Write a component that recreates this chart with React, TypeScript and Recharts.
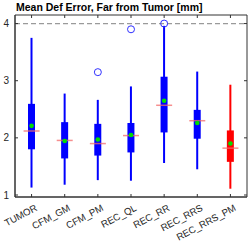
import { ComposedChart, Bar, Scatter, XAxis, YAxis, ReferenceLine, ReferenceArea } from 'recharts';

const categories = ['TUMOR', 'CFM_GM', 'CFM_PM', 'REC_QL', 'REC_RR', 'REC_RRS', 'REC_RRS_PM'];
const whiskerLow = [1.13, 1.18, 1.26, 1.25, 1.56, 1.45, 1.11];
const q1 = [1.8, 1.64, 1.69, 1.745, 2.095, 1.985, 1.58];
const medians = [2.12, 1.955, 1.9, 2.04, 2.57, 2.3, 1.82];
const q3 = [2.595, 2.275, 2.245, 2.26, 3.07, 2.49, 2.13];
const whiskerHigh = [3.75, 2.775, 2.665, 2.9, 3.96, 3.16, 2.93];
const means = [2.21, 1.945, 1.97, 2.05, 2.65, 2.26, 1.9];
// one outlier per category at most, null = none
const outlierValues = [null, null, 3.15, 3.9, 4.0, null, null];
const yTicks = [1, 2, 3, 4];

const boxColors = ['#0000ff', '#0000ff', '#0000ff', '#0000ff', '#0000ff', '#0000ff', '#ff0000'];
const FONT = '"Liberation Sans", Arial, sans-serif';
const PLOT_TOP = 15;
const PLOT_RIGHT = 247;

const rows = categories.map((name, i) => ({
  name,
  lo: whiskerLow[i],
  q1: q1[i],
  median: medians[i],
  q3: q3[i],
  hi: whiskerHigh[i],
  mean: means[i],
  outlier: outlierValues[i],
  color: boxColors[i],
}));

// whisker + box drawn inside the range bar [lo, hi]
const BoxShape = (props: any) => {
  const { x, y, width, height, payload } = props;
  const top = Math.min(y, y + height);
  const h = Math.abs(height);
  const pix = (v: number) => top + ((payload.hi - v) / (payload.hi - payload.lo)) * h;
  const cx = x + width / 2;
  return (
    <g>
      <line x1={cx} x2={cx} y1={top} y2={top + h} stroke={payload.color} strokeWidth={2} />
      <rect x={cx - 3.5} y={pix(payload.q3)} width={7} height={pix(payload.q1) - pix(payload.q3)} fill={payload.color} />
    </g>
  );
};

const MedianShape = (props: any) => {
  const { cx, cy } = props;
  return <line x1={cx - 8} x2={cx + 8} y1={cy} y2={cy} stroke="#f36a6a" strokeOpacity={0.75} strokeWidth={1.5} />;
};

const MeanShape = (props: any) => <circle cx={props.cx} cy={props.cy} r={2.3} fill="#00dd00" />;

const OutlierShape = (props: any) => {
  if (props.payload?.outlier == null || !Number.isFinite(props.cy)) return <g />;
  return <circle cx={props.cx} cy={props.cy} r={3.5} fill="none" stroke="#3030ff" strokeWidth={1} />;
};

const XTick = (props: any) => {
  const { x, y, payload } = props;
  const axisY = y - 6;
  const ax = x + 3;
  const ay = y + 1;
  return (
    <g>
      <line x1={x} x2={x} y1={axisY} y2={axisY - 3} stroke="#333" />
      <line x1={x} x2={x} y1={PLOT_TOP} y2={PLOT_TOP + 3} stroke="#333" />
      <g transform={`translate(${ax},${ay}) rotate(-28)`}>
        <text x={0} y={0} textAnchor="end" dy="0.71em" fontSize={9.6} fill="#262626" fontFamily={FONT}>
          {payload.value}
        </text>
      </g>
    </g>
  );
};

const YTick = (props: any) => {
  const { x, y, payload } = props;
  const axisX = x + 6;
  return (
    <g>
      <line x1={axisX} x2={axisX + 3} y1={y} y2={y} stroke="#333" />
      <line x1={PLOT_RIGHT} x2={PLOT_RIGHT - 3} y1={y} y2={y} stroke="#333" />
      <text x={x} y={y} textAnchor="end" dy="0.35em" fontSize={10} fill="#262626" fontFamily={FONT}>
        {payload.value}
      </text>
    </g>
  );
};

export default function App() {
  return (
    <div style={{ position: 'fixed', left: 0, top: 0, width: 249, height: 243, background: '#fff' }}>
      <div style={{ position: 'absolute', left: 16, top: 1, fontFamily: FONT, fontWeight: 'bold', fontSize: 10.5, lineHeight: '12px', color: '#000', whiteSpace: 'nowrap' }}>
        Mean Def Error, Far from Tumor [mm]
      </div>
      <ComposedChart width={249} height={243} data={rows} margin={{ top: PLOT_TOP, right: 2, bottom: 6, left: 0 }}>
        <XAxis dataKey="name" type="category" height={40} tickSize={4} tickMargin={2} tickLine={false} axisLine={{ stroke: '#333' }} tick={<XTick />} interval={0} />
        <YAxis type="number" domain={[0.965, 4.15]} ticks={yTicks} width={15} tickSize={4} tickMargin={2} tickLine={false} axisLine={{ stroke: '#333' }} tick={<YTick />} allowDataOverflow />
        <ReferenceArea y1={0.965} y2={4.15} fill="none" stroke="#333" strokeWidth={1} ifOverflow="visible" />
        <ReferenceLine y={4} stroke="#9a9a9a" strokeWidth={1.3} strokeDasharray="5 3" />
        <Bar dataKey={(d: any) => [d.lo, d.hi]} barSize={7} shape={<BoxShape />} isAnimationActive={false} />
        <Scatter dataKey="median" shape={<MedianShape />} isAnimationActive={false} />
        <Scatter dataKey="mean" shape={<MeanShape />} isAnimationActive={false} />
        <Scatter dataKey="outlier" shape={<OutlierShape />} isAnimationActive={false} />
      </ComposedChart>
    </div>
  );
}
